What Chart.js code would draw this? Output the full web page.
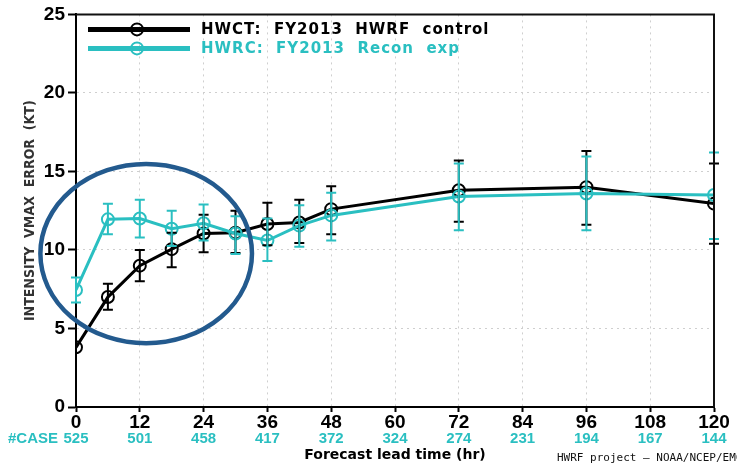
<!DOCTYPE html>
<html>
<head>
<meta charset="utf-8">
<script src="https://cdn.jsdelivr.net/npm/chart.js@4"></script>
<style>
  html, body { margin: 0; padding: 0; background: #fff; }
  canvas { display: block; }
</style>
</head>
<body>
<canvas id="graficoIntensidade" width="737" height="466"></canvas>
<script>
// lead times (hr) of the verification points
const leadTimes = [0, 6, 12, 18, 24, 30, 36, 42, 48, 72, 96, 120];

// HWCT: FY2013 HWRF control
const hwctMean = [3.8, 7.0, 9.0, 10.05, 11.05, 11.1, 11.65, 11.75, 12.6, 13.8, 14.0, 12.95];
const hwctLow  = [3.8, 6.2, 8.0, 8.9, 9.85, 9.8, 10.3, 10.45, 11.0, 11.8, 11.6, 10.4];
const hwctHigh = [3.8, 7.85, 10.0, 11.1, 12.25, 12.5, 13.0, 13.2, 14.05, 15.7, 16.3, 15.5];

// HWRC: FY2013 Recon exp
const hwrcMean = [7.45, 11.95, 12.0, 11.35, 11.7, 11.05, 10.6, 11.55, 12.2, 13.4, 13.6, 13.5];
const hwrcLow  = [6.65, 11.0, 10.8, 10.25, 10.6, 9.75, 9.3, 10.2, 10.6, 11.25, 11.25, 10.7];
const hwrcHigh = [8.25, 12.95, 13.2, 12.5, 12.9, 12.15, 12.0, 12.85, 13.65, 15.5, 15.95, 16.2];

// number of cases per lead time
const caseLeads  = [0, 12, 24, 36, 48, 60, 72, 84, 96, 108, 120];
const caseCounts = [525, 501, 458, 417, 372, 324, 274, 231, 194, 167, 144];

// highlighted region (centre and radii in hours / kt)
const destaqueCentro = [13.2, 9.77];
const destaqueRaio = [19.9, 5.71];

const PRETO = '#000000';
const CIANO = '#2abfc1';

function pontos(medias) {
  return leadTimes.map((h, i) => ({ x: h, y: medias[i] }));
}

const serieOpts = {
  borderWidth: 3,
  pointRadius: 6,
  pointBorderWidth: 2,
  pointBackgroundColor: 'rgba(0,0,0,0)',
  tension: 0
};

// error bars, legend, case counts, frame and the highlight ellipse
const extrasPlugin = {
  id: 'extras',
  afterDatasetsDraw(chart) {
    const { ctx, scales: { x, y } } = chart;
    chart.data.datasets.forEach(ds => {
      ctx.save();
      ctx.strokeStyle = ds.borderColor;
      ctx.lineWidth = 2;
      ds.erroBaixo.forEach((lo, i) => {
        const hi = ds.erroAlto[i];
        if (hi - lo < 0.01) return;
        const px = x.getPixelForValue(leadTimes[i]);
        const y1 = y.getPixelForValue(lo);
        const y2 = y.getPixelForValue(hi);
        ctx.beginPath();
        ctx.moveTo(px, y1); ctx.lineTo(px, y2);
        ctx.moveTo(px - 5, y1); ctx.lineTo(px + 5, y1);
        ctx.moveTo(px - 5, y2); ctx.lineTo(px + 5, y2);
        ctx.stroke();
      });
      ctx.restore();
    });
  },
  afterDraw(chart) {
    const { ctx, chartArea: area, scales: { x, y } } = chart;
    ctx.save();

    // frame top and right
    ctx.strokeStyle = '#111';
    ctx.lineWidth = 2;
    ctx.beginPath();
    ctx.moveTo(area.left, area.top);
    ctx.lineTo(area.right, area.top);
    ctx.lineTo(area.right, area.bottom);
    ctx.stroke();

    // legend
    chart.data.datasets.forEach((ds, i) => {
      const ly = area.top + 15 + i * 19;
      ctx.strokeStyle = ds.borderColor;
      ctx.lineWidth = 5;
      ctx.beginPath();
      ctx.moveTo(area.left + 12, ly);
      ctx.lineTo(area.left + 114, ly);
      ctx.stroke();
      ctx.lineWidth = 2;
      ctx.beginPath();
      ctx.arc(area.left + 61, ly, 6, 0, Math.PI * 2);
      ctx.stroke();
      ctx.fillStyle = ds.borderColor;
      ctx.font = 'bold 15px "DejaVu Sans", sans-serif';
      ctx.letterSpacing = '1px';
      ctx.textBaseline = 'middle';
      ctx.textAlign = 'left';
      ctx.fillText(ds.label, area.left + 125, ly + 1);
    });
    ctx.letterSpacing = '0px';

    // case counts under the x axis
    ctx.fillStyle = CIANO;
    ctx.font = 'bold 15px "Liberation Sans", Arial, sans-serif';
    ctx.textBaseline = 'middle';
    ctx.textAlign = 'center';
    caseLeads.forEach((h, i) => {
      ctx.fillText(String(caseCounts[i]), x.getPixelForValue(h), 439);
    });
    ctx.textAlign = 'right';
    ctx.fillText('#CASE', 58, 439);

    // footer
    ctx.fillStyle = '#111';
    ctx.font = '11px "DejaVu Sans Mono", monospace';
    ctx.textAlign = 'left';
    ctx.fillText('HWRF project \u2014 NOAA/NCEP/EMC', 557, 458);

    // highlight ellipse
    const cx = x.getPixelForValue(destaqueCentro[0]);
    const cy = y.getPixelForValue(destaqueCentro[1]);
    const rx = x.getPixelForValue(destaqueCentro[0] + destaqueRaio[0]) - cx;
    const ry = cy - y.getPixelForValue(destaqueCentro[1] + destaqueRaio[1]);
    ctx.strokeStyle = '#235a8e';
    ctx.lineWidth = 4.5;
    ctx.beginPath();
    ctx.ellipse(cx, cy, rx, ry, 0, 0, Math.PI * 2);
    ctx.stroke();

    ctx.restore();
  }
};

const ctx = document.getElementById('graficoIntensidade').getContext('2d');
new Chart(ctx, {
  type: 'line',
  data: {
    datasets: [
      {
        ...serieOpts,
        label: 'HWCT:  FY2013  HWRF  control',
        data: pontos(hwctMean),
        erroBaixo: hwctLow,
        erroAlto: hwctHigh,
        borderColor: PRETO,
        pointBorderColor: PRETO,
        order: 2
      },
      {
        ...serieOpts,
        label: 'HWRC:  FY2013  Recon  exp',
        data: pontos(hwrcMean),
        erroBaixo: hwrcLow,
        erroAlto: hwrcHigh,
        borderColor: CIANO,
        pointBorderColor: CIANO,
        order: 1
      }
    ]
  },
  options: {
    responsive: false,
    animation: false,
    layout: { padding: { top: 13, right: 23, left: 0, bottom: 0 } },
    plugins: {
      legend: { display: false },
      tooltip: { enabled: false }
    },
    scales: {
      x: {
        type: 'linear',
        min: 0,
        max: 120,
        afterFit: scale => { scale.height = 59; },
        ticks: {
          stepSize: 12,
          color: '#000',
          padding: 1,
          maxRotation: 0,
          font: { family: '"Liberation Sans", Arial, sans-serif', size: 19, weight: 'bold', lineHeight: 1 }
        },
        grid: {
          color: '#cfcfcf',
          lineWidth: 1,
          tickColor: '#000',
          tickWidth: 2,
          tickLength: 5
        },
        border: { color: '#000', width: 2, dash: [2, 4] },
        title: {
          display: true,
          text: 'Forecast lead time (hr)',
          color: '#000',
          padding: { top: 0, bottom: 2 },
          font: { family: '"DejaVu Sans", sans-serif', size: 14, weight: 'bold' }
        }
      },
      y: {
        min: 0,
        max: 25,
        afterFit: scale => { scale.width = 76; },
        ticks: {
          stepSize: 5,
          color: '#000',
          padding: 3,
          font: { family: '"Liberation Sans", Arial, sans-serif', size: 19, weight: 'bold' }
        },
        grid: {
          color: '#cfcfcf',
          lineWidth: 1,
          tickColor: '#000',
          tickWidth: 2,
          tickLength: 8
        },
        border: { color: '#000', width: 2, dash: [2, 4] },
        title: {
          display: true,
          text: 'INTENSITY  VMAX  ERROR  (KT)',
          color: '#333',
          padding: { top: 22, bottom: 0 },
          font: { family: '"Liberation Sans Narrow", "DejaVu Sans Condensed", sans-serif', size: 14, weight: 'bold' }
        }
      }
    }
  },
  plugins: [extrasPlugin]
});
</script>
</body>
</html>
